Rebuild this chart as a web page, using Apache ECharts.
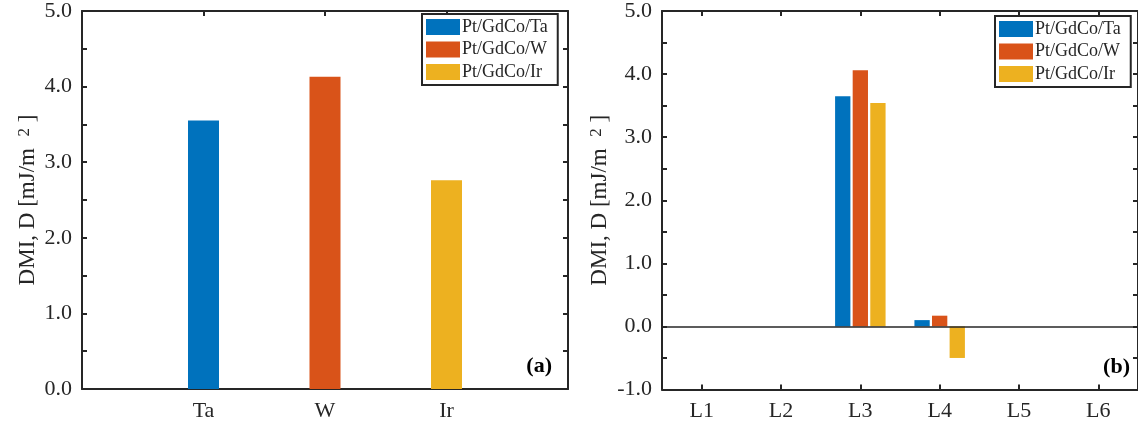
<!DOCTYPE html>
<html>
<head>
<meta charset="utf-8">
<title>DMI</title>
<style>
  html, body { margin: 0; padding: 0; background: #fff; }
  #chart { width: 1138px; height: 427px; }
</style>
</head>
<body>
<div id="chart"></div>
<script src="https://cdn.jsdelivr.net/npm/echarts@6/dist/echarts.min.js"></script>
<script>
// data
var seriesNames = ['Pt/GdCo/Ta', 'Pt/GdCo/W', 'Pt/GdCo/Ir'];
var colors = ['#0072BD', '#D95319', '#EDB120'];

// panel (a): one bar per interlayer
var catsA = ['', 'Ta', 'W', 'Ir', ''];
var dmiA = [3.55, 4.13, 2.76];

// panel (b): layer contributions
var catsB = ['L1', 'L2', 'L3', 'L4', 'L5', 'L6'];
var taB = [0, 0, 3.65, 0.10, 0, 0];
var wB = [0, 0, 4.06, 0.17, 0, 0];
var irB = [0, 0, 3.54, -0.50, 0, 0];

var yTicksA = [0, 5];
var yTicksB = [-1, 5];

var FONT = '"Liberation Serif", "Times New Roman", serif';
var INK = '#262626';

var chart = echarts.init(document.getElementById('chart'));

function yName() {
  return {
    name: '{a|DMI, D [mJ/m  }{s|2}{a| ]}',
    nameLocation: 'middle',
    nameRotate: 90,
    nameTextStyle: {
      rich: {
        a: { fontFamily: FONT, fontSize: 23, color: INK },
        s: { fontFamily: FONT, fontSize: 17, color: INK, verticalAlign: 'top' }
      }
    }
  };
}

function valueAxis(grid, range, gap, show) {
  var ax = {
    type: 'value', gridIndex: grid, min: range[0], max: range[1], interval: 0.5,
    position: show ? 'left' : 'right',
    axisLine: { show: true, lineStyle: { color: INK, width: 2 } },
    axisTick: { show: true, inside: true, length: 5, lineStyle: { color: INK, width: 2 } },
    axisLabel: {
      show: show, margin: 10, color: INK, fontFamily: FONT, fontSize: 22,
      formatter: function (v) { return Math.abs(v % 1) < 1e-9 ? v.toFixed(1) : ''; }
    },
    splitLine: { show: false }
  };
  if (show) {
    var n = yName();
    for (var k in n) ax[k] = n[k];
    ax.nameGap = gap;
  }
  return ax;
}

function catAxis(grid, cats, onBand, bottom) {
  return {
    type: 'category', gridIndex: grid, data: cats, boundaryGap: onBand,
    position: bottom ? 'bottom' : 'top',
    axisLine: { show: true, onZero: false, lineStyle: { color: INK, width: 2 } },
    axisTick: { show: true, inside: true, length: 5, alignWithLabel: true, lineStyle: { color: INK, width: 2 } },
    axisLabel: { show: bottom, margin: 11, color: INK, fontFamily: FONT, fontSize: 22, interval: 0 },
    splitLine: { show: false }
  };
}

function legendAt(left, top) {
  return {
    data: seriesNames, orient: 'vertical', left: left, top: top,
    itemWidth: 34, itemHeight: 16, itemGap: 4.5,
    padding: [4, 10, 4, 4],
    borderColor: INK, borderWidth: 2, backgroundColor: '#fff',
    icon: 'rect',
    textStyle: { fontFamily: FONT, fontSize: 18, color: INK, lineHeight: 16, padding: [0, 0, 0, -3] }
  };
}

var series = [];
// panel (a): stacked so each single bar stays centred on its category
seriesNames.forEach(function (name, i) {
  var d = catsA.map(function () { return null; });
  d[i + 1] = dmiA[i];
  series.push({
    name: name, type: 'bar', xAxisIndex: 0, yAxisIndex: 0, stack: 'a',
    barWidth: 31, data: d, itemStyle: { color: colors[i] }
  });
});
// panel (b): grouped bars
[taB, wB, irB].forEach(function (vals, i) {
  var s = {
    name: seriesNames[i], type: 'bar', xAxisIndex: 2, yAxisIndex: 2,
    barWidth: 15.3, barGap: '15%', data: vals, itemStyle: { color: colors[i] }
  };
  if (i === 0) {
    s.markLine = {
      silent: true, symbol: 'none', label: { show: false },
      lineStyle: { color: INK, width: 1.5, type: 'solid' },
      data: [{ yAxis: 0 }]
    };
  }
  series.push(s);
});

chart.setOption({
  animation: false,
  backgroundColor: '#fff',
  textStyle: { fontFamily: FONT },
  grid: [
    { left: 82, top: 5, width: 486, height: 384 },
    { left: 662, top: 7.5, width: 480, height: 382 }
  ],
  legend: [legendAt(422, 14), legendAt(995, 16)],
  xAxis: [
    catAxis(0, catsA, false, true),
    catAxis(0, catsA, false, false),
    catAxis(1, catsB, true, true),
    catAxis(1, catsB, true, false)
  ],
  yAxis: [
    valueAxis(0, yTicksA, 43, true),
    valueAxis(0, yTicksA, 0, false),
    valueAxis(1, yTicksB, 51, true),
    valueAxis(1, yTicksB, 0, false)
  ],
  series: series,
  graphic: [
    { type: 'text', style: { text: '(a)', x: 552, y: 366, textAlign: 'right', textVerticalAlign: 'middle', align: 'right', verticalAlign: 'middle', fill: '#000', font: 'bold 22px ' + FONT } },
    { type: 'text', style: { text: '(b)', x: 1130, y: 367, textAlign: 'right', textVerticalAlign: 'middle', align: 'right', verticalAlign: 'middle', fill: '#000', font: 'bold 22px ' + FONT } }
  ]
});
</script>
</body>
</html>
